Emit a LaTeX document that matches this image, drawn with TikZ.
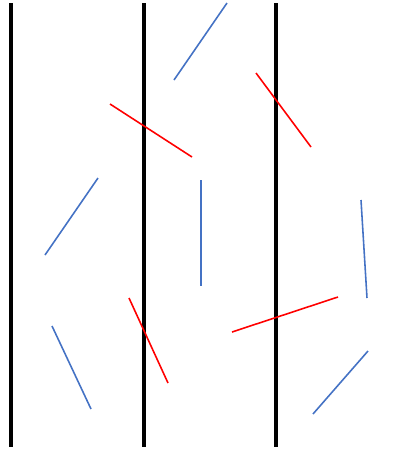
\documentclass[tikz,border=0pt]{standalone}
\usetikzlibrary{positioning}
\definecolor{cneedle}{HTML}{4472C4}
\definecolor{chit}{HTML}{FF0000}
\tikzset{
  every picture/.style={line width=1pt},
  gridline/.style={draw=black, line width=2.1pt},
  miss/.style={draw=cneedle, line width=0.9pt},
  hit/.style={draw=chit, line width=0.9pt},
}
\begin{document}
\begin{tikzpicture}[x=0.02cm, y=-0.02cm]
  \useasboundingbox (0,0) rectangle (398,450);
  % parallel lines
  \foreach \x in {11,144,276}
    \draw[gridline] (\x,3) -- (\x,447);
  % needles that miss
  \draw[miss] (174,80) -- (227,3);
  \draw[miss] (45,255) -- (98,178);
  \draw[miss] (201,180) -- (201,286);
  \draw[miss] (52,326) -- (91,409);
  \draw[miss] (361,200) -- (367,298);
  \draw[miss] (313,414) -- (368,351);
  % needles that cross a line
  \draw[hit] (110,104) -- (192,157);
  \draw[hit] (256,73) -- (311,147);
  \draw[hit] (129,298) -- (168,383);
  \draw[hit] (232,332) -- (338,297);
\end{tikzpicture}
\end{document}
